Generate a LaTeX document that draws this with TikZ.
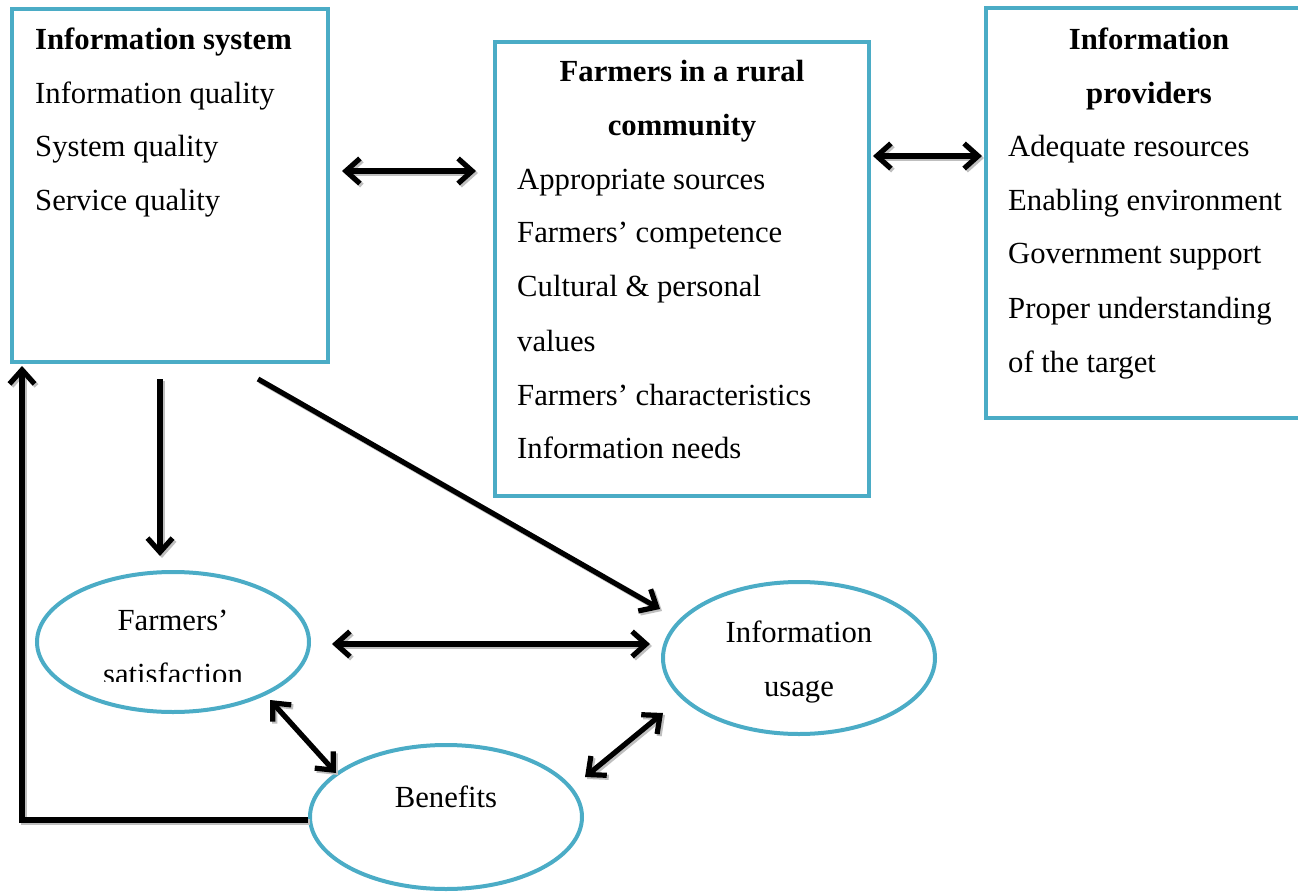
\documentclass[tikz,border=0pt]{standalone}
\usepackage{fontspec}
\setmainfont{Liberation Serif}
\usetikzlibrary{arrows.meta,shapes.geometric,calc}
\definecolor{frame}{HTML}{4BACC6}
% a connector drawn over a soft grey offset copy of itself
\newcommand\castlink[2]{%
  \draw[ghost,#1] #2;
  \draw[conn,#1] #2;}
\begin{document}
\begin{tikzpicture}[x=1pt,y=-1pt,
  panel/.style={draw=frame,line width=4pt,inner sep=0pt,fill=white},
  oval/.style={ellipse,draw=frame,line width=4pt,inner sep=0pt,
    minimum width=272pt},
  txt/.style={anchor=base west,inner sep=0pt,font=\fontsize{30.7}{36}\selectfont},
  ttl/.style={anchor=base,inner sep=0pt,font=\fontsize{30.7}{36}\selectfont\bfseries},
  mid/.style={anchor=base,inner sep=0pt,font=\fontsize{30.7}{36}\selectfont},
  conn/.style={line width=5.2pt,black},
  ghost/.style={line width=5.2pt,gray!50,
    transform canvas={shift={(2pt,-2pt)}}},
  tip/.tip={Straight Barb[length=14pt,width=25pt]}
]
\useasboundingbox (0,0) rectangle (1298,893);
\clip (0,0) rectangle (1298,893);

% three boxes
\node[panel,minimum width=316pt,minimum height=353pt] (box1) at (170,185.5) {};
\node[panel,minimum width=374pt,minimum height=454pt] (box2) at (682,269) {};
\node[panel,minimum width=360pt,minimum height=410pt] (box3) at (1166,213) {};

% box 1 text
\node[txt,font=\fontsize{30.7}{36}\selectfont\bfseries] (s0) at (35,50) {Information system};
\node[txt] (s1) at (35,103.5) {Information quality};
\node[txt] (s2) at (35,157) {System quality};
\node[txt] (s3) at (35,211) {Service quality};

% box 2 text
\node[ttl] (f0) at (682,82) {Farmers in a rural};
\node[ttl] (f1) at (682,136) {community};
\node[txt] (f2) at (517,190) {Appropriate sources};
\node[txt] (f3) at (517,243) {Farmers’ competence};
\node[txt] (f4) at (517,297) {Cultural \& personal};
\node[txt] (f5) at (517,351) {values};
\node[txt] (f6) at (517,405) {Farmers’ characteristics};
\node[txt] (f7) at (517,458) {Information needs};

% box 3 text
\node[ttl] (p0) at (1149,50) {Information};
\node[ttl] (p1) at (1149,104) {providers};
\node[txt] (p2) at (1008,157) {Adequate resources};
\node[txt] (p3) at (1008,211) {Enabling environment};
\node[txt] (p4) at (1008,264) {Government support};
\node[txt] (p5) at (1008,318) {Proper understanding};
\node[txt] (p6) at (1008,372) {of the target};

% ellipses
\node[oval,minimum height=140pt] (fs) at (173,642) {};
\node[oval,minimum height=152pt] (iu) at (799,658) {};
\node[oval,minimum height=144pt] (ben) at (446,817) {};

\node[mid] (fs1) at (173,630) {Farmers’};
\begin{scope}
  \clip (40,560) rectangle (310,681);
  \node[mid] (fs2) at (173,684) {satisfaction};
\end{scope}
\node[mid] (iu1) at (799,642) {Information};
\node[mid] (iu2) at (799,696) {usage};
\node[mid] (ben1) at (446,807) {Benefits};

% connectors
\castlink{tip-tip,shorten <=12pt,shorten >=17pt}
  {(box1.east |- 0,171) -- (box2.west |- 0,171)}
\castlink{tip-tip,shorten <=2pt,shorten >=2pt}
  {(box2.east |- 0,156) -- (box3.west |- 0,156)}
\castlink{-tip,shorten <=15pt,shorten >=14pt}
  {(box1.south -| 160,0) -- (fs.north -| 160,0)}
\castlink{-tip}
  {($(box1.south -| 258,0)+(0,15)$) -- ($(iu.center)+(-139,-49)$)}
\castlink{tip-tip,shorten <=21pt,shorten >=11pt}
  {(fs.east |- 0,644) -- (iu.west |- 0,644)}
\castlink{tip-tip}
  {($(fs.center)+(97,58)$) -- ($(ben.center)+(-110,-44)$)}
\castlink{tip-tip}
  {($(ben.center)+(139,-40)$) -- ($(iu.center)+(-136,55)$)}
\castlink{-tip,shorten >=2pt}
  {(ben.west |- 0,820) -| ([xshift=12pt]box1.south west)}
\end{tikzpicture}
\end{document}
